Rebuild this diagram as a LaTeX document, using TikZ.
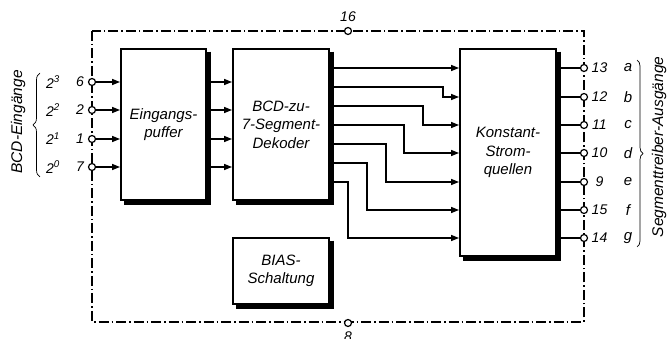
\documentclass[tikz,border=0pt]{standalone}
\usepackage{fontspec}
\setmainfont{Liberation Sans}
\usetikzlibrary{arrows.meta,decorations.pathreplacing,calc}
\begin{document}
\begin{tikzpicture}[x=1pt,y=-1pt,
 box/.style={draw,line width=1.9pt,fill=white,align=center,
   font=\fontsize{15}{18.5}\selectfont\itshape,inner sep=0pt},
 shadowline/.style={draw=black,line width=4.5pt},
 pin/.style={circle,draw,fill=white,line width=1.2pt,inner sep=0pt,minimum size=7pt},
 conn/.style={line width=1.3pt},
 arr/.style={conn,-{Triangle[length=8pt,width=6pt]}},
 frame/.style={line width=1.1pt,dash pattern=on 10pt off 3pt on 1.5pt off 3pt},
 lbl/.style={font=\fontsize{14}{14}\selectfont\itshape,inner sep=0pt},
 side/.style={font=\fontsize{15.5}{15.5}\selectfont\itshape,inner sep=0pt,rotate=90},
 bracel/.style={decorate,line width=0.7pt}
 ]
\useasboundingbox (0,0) rectangle (670,339);

% boxes
\node[box,minimum width=85pt,minimum height=151pt] (puf) at (163.5,124.5) {Eingangs-\\puffer};
\node[box,minimum width=96pt,minimum height=151pt] (dek) at (281,124.5) {BCD-zu-\\7-Segment-\\Dekoder};
\node[box,minimum width=96pt,minimum height=66pt] (bias) at (281,271) {BIAS-\\Schaltung};
\node[box,minimum width=96pt,minimum height=207pt] (kon) at (508,152.5) {Konstant-\\Strom-\\quellen};
\draw[shadowline] ($(puf.north east)+(2.25,3.5)$) |- ($(puf.south west)+(3.5,2.25)$);
\draw[shadowline] ($(dek.north east)+(2.25,3.5)$) |- ($(dek.south west)+(3.5,2.25)$);
\draw[shadowline] ($(bias.north east)+(2.25,3.5)$) |- ($(bias.south west)+(3.5,2.25)$);
\draw[shadowline] ($(kon.north east)+(2.25,3.5)$) |- ($(kon.south west)+(3.5,2.25)$);

% frame
\draw[frame] (92,31) rectangle (584,322);
\node[pin] (p16) at (348,31) {};
\node[lbl] (l16) at (348,17) {16};
\node[pin] (p8) at (348,323) {};
\node[lbl] (l8) at (348,337) {8};

% inputs
\foreach \n/\y/\e in {6/82/3, 2/110/2, 1/139/1, 7/167/0}{
  \node[pin] (p\n) at (92,\y) {};
  \node[lbl] (n\n) at (80,\y) {\n};
  \node[lbl] (w\n) at (53,\y) {2\textsuperscript{\e}};
  \draw[arr] (p\n) -- (p\n -| puf.west);
  \draw[arr] (p\n -| puf.east) -- (p\n -| dek.west);
}

% decoder to current sources
\coordinate (d1) at (dek.east |- 0,68);
\coordinate (k1) at (kon.west |- 0,68);
\draw[arr] (d1) -- (k1);
\foreach \i/\dy/\ky/\bx in {2/87/97/443, 3/106/125/423, 4/125/153/404, 5/144/182/386, 6/163/210/367, 7/182/238/348}{
  \coordinate (d\i) at (dek.east |- 0,\dy);
  \coordinate (k\i) at (kon.west |- 0,\ky);
  \draw[arr] (d\i) -| (\bx,\ky) -- (k\i);
}

% outputs
\foreach \n/\l/\y in {13/a/68, 12/b/97, 11/c/125, 10/d/153, 9/e/182, 15/f/210, 14/g/238}{
  \node[pin] (q\n) at (584,\y) {};
  \draw[conn] (q\n -| kon.east) -- (q\n);
  \node[lbl] (m\n) at (599.5,\y) {\n};
  \node[lbl,font=\fontsize{15}{15}\selectfont\itshape] (s\n) at (628,\y) {\l};
}

% braces and side labels
\draw[bracel,decoration={brace,amplitude=7pt}] (40,177) -- (40,73);
\draw[bracel,decoration={brace,amplitude=6pt}] (637,60) -- (637,247);
\node[side] (bcd) at (18,122) {BCD-Eingänge};
\node[side] (seg) at (659,147) {Segmenttreiber-Ausgänge};
\end{tikzpicture}
\end{document}
